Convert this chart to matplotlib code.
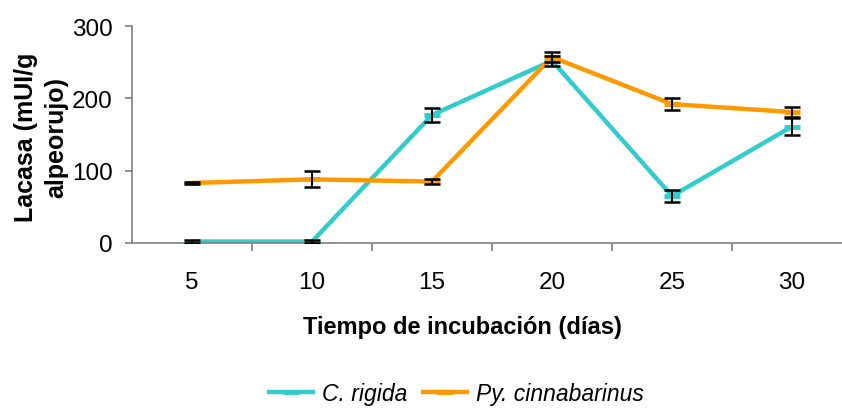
import numpy as np
import matplotlib.pyplot as plt

plt.rcParams['font.family'] = ['Liberation Sans', 'DejaVu Sans']

# dias de incubacion y actividad lacasa (mUI/g alpeorujo)
dias = ['5', '10', '15', '20', '25', '30']
rigida = [2, 2, 177, 252, 65, 161]
rigida_err = [2, 2, 10, 7, 8, 12]
cinna = [83, 88, 85, 257, 192, 181]
cinna_err = [2, 11, 4, 7, 8, 7]

c_rig = '#33CCCC'
c_cin = '#FF9900'

fig = plt.figure(figsize=(8.42, 4.10), dpi=100)
ax = fig.add_axes([132 / 842, 1 - 244 / 410, 720 / 842, 217 / 410])

x = np.arange(len(dias))
for y, e, c, lab in [(rigida, rigida_err, c_rig, 'C. rigida'),
                     (cinna, cinna_err, c_cin, 'Py. cinnabarinus')]:
    ax.plot(x, y, color=c, lw=3.2, marker='_', ms=11, mew=3.5,
            label=lab, zorder=2, solid_capstyle='butt')
    ax.errorbar(x, y, yerr=e, fmt='none', ecolor='black', elinewidth=1.5,
                capsize=5.5, capthick=1.8, zorder=3)

ax.set_xlim(-0.5, len(dias) - 0.5)
ax.set_ylim(0, 300)
ax.set_yticks([0, 100, 200, 300])
ax.set_xticks(x)
ax.set_xticklabels(dias)
ax.set_xticks(np.arange(len(dias)) + 0.5, minor=True)

for s in ['top', 'right']:
    ax.spines[s].set_visible(False)
for s in ['left', 'bottom']:
    ax.spines[s].set_color('#808080')
    ax.spines[s].set_linewidth(1.2)

ax.tick_params(axis='x', which='major', length=0, labelsize=17.5, pad=20)
ax.tick_params(axis='x', which='minor', length=6, width=1.2, color='#808080')
ax.tick_params(axis='y', length=5, width=1.2, color='#808080',
               labelsize=17.5, pad=9)

ax.set_xlabel('Tiempo de incubación (días)', fontsize=17, fontweight='bold')
ax.xaxis.label.set_va('center')
ax.xaxis.set_label_coords((462 - 132) / 720, (244 - 328) / 217)
fig.text(41 / 842, 1 - 137 / 410, 'Lacasa (mUI/g\nalpeorujo)', rotation=90,
         ha='center', va='center', fontsize=18, fontweight='bold',
         linespacing=1.3)

leg = fig.legend(loc='center', bbox_to_anchor=(455 / 842, 1 - 395 / 410),
                 ncol=2, frameon=False, handlelength=2.1, columnspacing=0.6,
                 handletextpad=0.3, prop={'style': 'italic', 'size': 16.5})

fig.savefig('out.png', dpi=100)
